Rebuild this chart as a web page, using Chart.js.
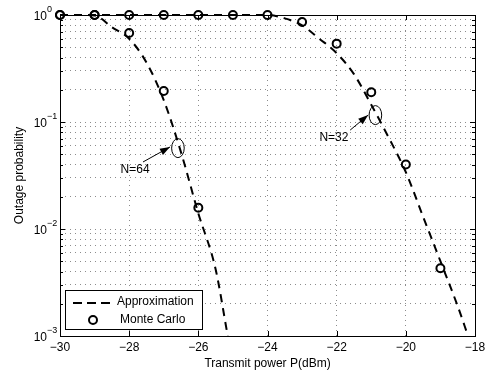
<!DOCTYPE html>
<html>
<head>
<meta charset="utf-8">
<script src="https://cdn.jsdelivr.net/npm/chart.js@4.4.0/dist/chart.umd.min.js"></script>
<style>
  body { margin: 0; background: #fff; }
</style>
</head>
<body>
<canvas id="outageChart" width="489" height="375"></canvas>
<script>
// x axis ticks (dBm) and y decades
const powerTicks = [-30, -28, -26, -24, -22, -20, -18];
const decadeTicks = [0.001, 0.01, 0.1, 1];
const decadeExponents = ['−3', '−2', '−1', '0'];

// Approximation curves
const approx64X = [-30, -29.5, -29, -28.5, -28, -27.5, -27, -26.5, -26, -25.5, -25.15];
const approx64Y = [1, 1, 0.99, 0.77, 0.6, 0.36, 0.16, 0.052, 0.014, 0.0042, 0.001];
const approx32X = [-30, -24, -23.5, -23, -22.5, -22, -21.5, -21, -20.5, -20, -19.5, -19, -18.5, -18.2];
const approx32Y = [1, 1, 0.93, 0.8, 0.6, 0.44, 0.28, 0.145, 0.072, 0.034, 0.013, 0.005, 0.0019, 0.001];

// Monte Carlo points
const mc64X = [-30, -29, -28, -27, -26];
const mc64Y = [1, 1, 0.68, 0.195, 0.0158];
const mc32X = [-30, -29, -28, -27, -26, -25, -24, -23, -22, -21, -20, -19];
const mc32Y = [1, 1, 1, 1, 1, 1, 1, 0.86, 0.54, 0.19, 0.04, 0.0043];

// annotations in data coords: ellipse centre, label, arrow tail/head
const notes = [
  { text: 'N=64', cx: -26.59, cy: 0.057, lx: -27.83, ly: 0.036, ax: -27.6, ay: 0.0423, hx: -26.82, hy: 0.0584 },
  { text: 'N=32', cx: -20.88, cy: 0.116, lx: -22.08, ly: 0.072, ax: -21.61, ay: 0.084, hx: -21.09, hy: 0.116 }
];

const toPts = (xs, ys) => xs.map((x, i) => ({ x: x, y: ys[i] }));

// minor ticks for the log grid
const yGridTicks = [];
decadeTicks.forEach((d, i) => {
  if (i === decadeTicks.length - 1) { yGridTicks.push(d); return; }
  for (let k = 1; k < 10; k++) yGridTicks.push(+(k * d).toPrecision(3));
});

const FONT = '"Liberation Sans", Arial, Helvetica, sans-serif';

const dashed = {
  borderColor: '#000',
  borderWidth: 2,
  borderDash: [8, 6],
  pointRadius: 0,
  cubicInterpolationMode: 'monotone',
  clip: false
};
const circles = {
  showLine: false,
  borderColor: '#000',
  backgroundColor: 'rgba(0,0,0,0)',
  pointStyle: 'circle',
  pointRadius: 4,
  pointBorderWidth: 2,
  clip: false
};

const decor = {
  id: 'decor',
  afterDraw(chart) {
    const ctx = chart.ctx;
    const a = chart.chartArea;
    const xs = chart.scales.x, ys = chart.scales.y;
    ctx.save();

    // frame
    ctx.strokeStyle = '#000';
    ctx.lineWidth = 1;
    ctx.setLineDash([]);
    ctx.strokeRect(a.left + 0.5, a.top + 0.5, a.right - a.left, a.bottom - a.top);

    // inward ticks
    ctx.beginPath();
    powerTicks.forEach(v => {
      const px = Math.round(xs.getPixelForValue(v)) + 0.5;
      ctx.moveTo(px, a.bottom); ctx.lineTo(px, a.bottom - 5);
      ctx.moveTo(px, a.top); ctx.lineTo(px, a.top + 5);
    });
    yGridTicks.forEach(v => {
      const py = Math.round(ys.getPixelForValue(v)) + 0.5;
      const len = decadeTicks.includes(v) ? 5 : 3;
      ctx.moveTo(a.left, py); ctx.lineTo(a.left + len, py);
      ctx.moveTo(a.right, py); ctx.lineTo(a.right - len, py);
    });
    ctx.stroke();

    // tick labels
    ctx.fillStyle = '#000';
    ctx.font = '12px ' + FONT;
    ctx.textAlign = 'center';
    ctx.textBaseline = 'middle';
    powerTicks.forEach(v => {
      ctx.fillText(String(v).replace('-', '−'), xs.getPixelForValue(v), a.bottom + 12);
    });
    decadeTicks.forEach((v, i) => {
      const py = ys.getPixelForValue(v);
      ctx.font = '12px ' + FONT;
      ctx.textAlign = 'right';
      ctx.textBaseline = 'alphabetic';
      ctx.fillText('10', a.left - 13, py + 5);
      ctx.font = '9px ' + FONT;
      ctx.textAlign = 'left';
      ctx.fillText(decadeExponents[i], a.left - 13, py - 3);
    });

    // axis titles
    ctx.font = '12px ' + FONT;
    ctx.textAlign = 'center';
    ctx.textBaseline = 'middle';
    ctx.fillText('Transmit power P(dBm)', (a.left + a.right) / 2, a.bottom + 28);
    ctx.save();
    ctx.translate(20, (a.top + a.bottom) / 2);
    ctx.rotate(-Math.PI / 2);
    ctx.fillText('Outage probability', 0, 0);
    ctx.restore();

    // annotations
    notes.forEach(n => {
      const cx = xs.getPixelForValue(n.cx), cy = ys.getPixelForValue(n.cy);
      ctx.lineWidth = 1;
      ctx.beginPath();
      ctx.ellipse(cx, cy, 6.3, 9.5, 0, 0, Math.PI * 2);
      ctx.stroke();
      const x0 = xs.getPixelForValue(n.ax), y0 = ys.getPixelForValue(n.ay);
      const x1 = xs.getPixelForValue(n.hx), y1 = ys.getPixelForValue(n.hy);
      const ang = Math.atan2(y1 - y0, x1 - x0);
      ctx.beginPath();
      ctx.moveTo(x0, y0); ctx.lineTo(x1, y1);
      ctx.stroke();
      ctx.beginPath();
      ctx.moveTo(x1, y1);
      ctx.lineTo(x1 - 10 * Math.cos(ang) + 3.5 * Math.sin(ang), y1 - 10 * Math.sin(ang) - 3.5 * Math.cos(ang));
      ctx.lineTo(x1 - 10 * Math.cos(ang) - 3.5 * Math.sin(ang), y1 - 10 * Math.sin(ang) + 3.5 * Math.cos(ang));
      ctx.closePath();
      ctx.fill();
      ctx.font = '12px ' + FONT;
      ctx.textAlign = 'center';
      ctx.textBaseline = 'middle';
      ctx.fillText(n.text, xs.getPixelForValue(n.lx), ys.getPixelForValue(n.ly));
    });

    // legend box
    const bx = a.left + 5, by = a.bottom - 46, bw = 137, bh = 39;
    ctx.fillStyle = '#fff';
    ctx.fillRect(bx, by, bw, bh);
    ctx.strokeStyle = '#000';
    ctx.strokeRect(bx + 0.5, by + 0.5, bw, bh);
    ctx.lineWidth = 2;
    ctx.setLineDash([9, 5]);
    ctx.beginPath();
    ctx.moveTo(bx + 8, by + 13); ctx.lineTo(bx + 45, by + 13);
    ctx.stroke();
    ctx.setLineDash([]);
    ctx.beginPath();
    ctx.arc(bx + 28, by + 30, 4, 0, Math.PI * 2);
    ctx.stroke();
    ctx.fillStyle = '#000';
    ctx.font = '12px ' + FONT;
    ctx.textAlign = 'left';
    ctx.textBaseline = 'middle';
    ctx.fillText('Approximation', bx + 52, by + 12);
    ctx.fillText('Monte Carlo', bx + 55, by + 30);

    ctx.restore();
  }
};

new Chart(document.getElementById('outageChart'), {
  type: 'line',
  data: {
    datasets: [
      Object.assign({ label: 'Approximation N=64', data: toPts(approx64X, approx64Y) }, dashed),
      Object.assign({ label: 'Approximation N=32', data: toPts(approx32X, approx32Y) }, dashed),
      Object.assign({ label: 'Monte Carlo N=64', data: toPts(mc64X, mc64Y) }, circles),
      Object.assign({ label: 'Monte Carlo N=32', data: toPts(mc32X, mc32Y) }, circles)
    ]
  },
  options: {
    responsive: false,
    animation: false,
    layout: { padding: { left: 60, right: 14, top: 15, bottom: 39 } },
    plugins: { legend: { display: false }, tooltip: { enabled: false } },
    scales: {
      x: {
        type: 'linear',
        min: -30,
        max: -18,
        afterBuildTicks: s => { s.ticks = powerTicks.map(v => ({ value: v })); },
        ticks: { display: false },
        grid: { color: 'rgba(0,0,0,0.45)', lineWidth: 1, drawTicks: false },
        border: { display: false, dash: [1, 4] }
      },
      y: {
        type: 'logarithmic',
        min: 0.001,
        max: 1,
        afterBuildTicks: s => { s.ticks = yGridTicks.map(v => ({ value: v })); },
        ticks: { display: false },
        grid: { color: 'rgba(0,0,0,0.45)', lineWidth: 1, drawTicks: false },
        border: { display: false, dash: [1, 4] }
      }
    }
  },
  plugins: [decor]
});
</script>
</body>
</html>
